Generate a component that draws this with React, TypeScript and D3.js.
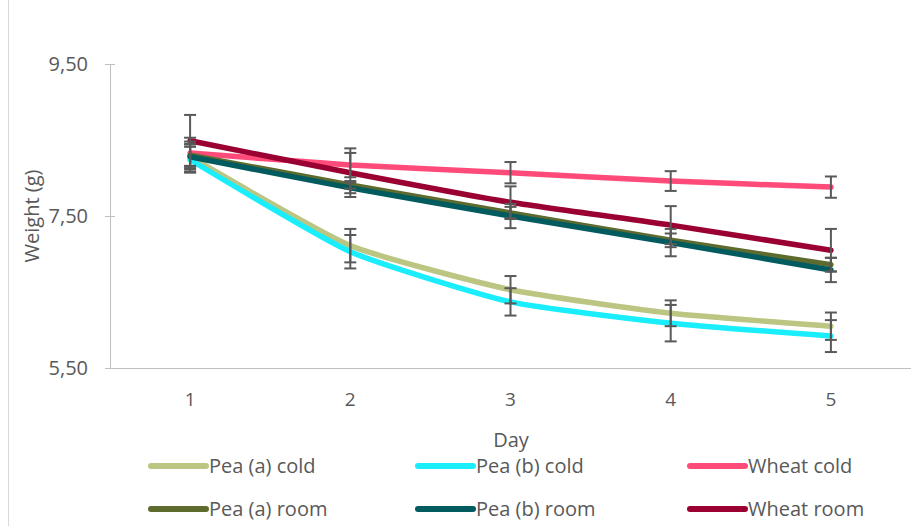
import React from 'react';
import * as d3 from 'd3';

const days = ['1', '2', '3', '4', '5'];
const yTicks = [5.5, 7.5, 9.5];

const peaAcold = [8.28, 7.11, 6.53, 6.22, 6.05];
const peaBcold = [8.24, 7.03, 6.37, 6.09, 5.92];
const wheatCold = [8.33, 8.17, 8.07, 7.96, 7.88];
const peaAroom = [8.30, 7.91, 7.54, 7.18, 6.86];
const peaBroom = [8.28, 7.87, 7.50, 7.15, 6.79];
const wheatRoom = [8.49, 8.07, 7.68, 7.38, 7.05];

const peaAcoldErr = [0.2, 0.22, 0.18, 0.17, 0.18];
const peaBcoldErr = [0.17, 0.22, 0.18, 0.24, 0.21];
const wheatColdErr = [0.2, 0.16, 0.14, 0.13, 0.14];
const peaAroomErr = [0.14, 0.05, 0.08, 0.09, 0.09];
const peaBroomErr = [0.17, 0.07, 0.16, 0.18, 0.16];
const wheatRoomErr = [0.34, 0.32, 0.21, 0.25, 0.28];

const series = [
  { name: 'Pea (a) cold', values: peaAcold, err: peaAcoldErr, color: '#bcc581' },
  { name: 'Pea (b) cold', values: peaBcold, err: peaBcoldErr, color: '#1aeefc' },
  { name: 'Wheat cold', values: wheatCold, err: wheatColdErr, color: '#ff4b79' },
  { name: 'Pea (a) room', values: peaAroom, err: peaAroomErr, color: '#5e6b2e' },
  { name: 'Pea (b) room', values: peaBroom, err: peaBroomErr, color: '#015b5f' },
  { name: 'Wheat room', values: wheatRoom, err: wheatRoomErr, color: '#9a0132' },
];

const W = 911, H = 526;
const left = 110, right = 911, top = 64, bottom = 368;
const font = 'Open Sans, sans-serif';
const textColor = '#595959';

export default function App() {
  const x = d3.scaleBand<string>().domain(days).range([left, right]);
  const y = d3.scaleLinear().domain([5.5, 9.5]).range([bottom, top]);
  const cx = (d: string) => (x(d) as number) + x.bandwidth() / 2;
  const line = d3.line<number>()
    .x((_, i) => cx(days[i]))
    .y(v => y(v))
    .curve(d3.curveCardinal.tension(0.5));

  return (
    <svg width={W} height={H} style={{ position: 'absolute', left: 0, top: 0 }}>
      <rect width={W} height={H} fill="#fff" />
      <line x1={8.5} x2={8.5} y1={0} y2={H} stroke="#d9d9d9" />
      {/* axes */}
      <line x1={left + 0.5} x2={left + 0.5} y1={top} y2={bottom} stroke="#bfbfbf" />
      <line x1={left} x2={right} y1={bottom + 0.5} y2={bottom + 0.5} stroke="#bfbfbf" />
      {yTicks.map(t => (
        <g key={t}>
          <line x1={left - 5} x2={left + 5} y1={y(t) + 0.5} y2={y(t) + 0.5} stroke="#bfbfbf" />
          <text x={88} y={y(t)} dy="0.35em" textAnchor="end" fontFamily={font} fontSize={20} fill={textColor}>
            {d3.format('.2f')(t).replace('.', ',')}
          </text>
        </g>
      ))}
      {days.map(d => (
        <text key={d} x={cx(d)} y={399} dy="0.35em" textAnchor="middle" fontFamily={font} fontSize={19} fill={textColor}>{d}</text>
      ))}
      <text x={511} y={440} dy="0.35em" textAnchor="middle" fontFamily={font} fontSize={20} fill={textColor}>Day</text>
      <text transform={`translate(32,${y(7.5)}) rotate(-90)`} dy="0.35em" textAnchor="middle" fontFamily={font} fontSize={20} fill={textColor}>Weight (g)</text>
      {/* lines */}
      {series.map(s => (
        <path key={s.name} d={line(s.values) || ''} fill="none" stroke={s.color} strokeWidth={5.5} strokeLinecap="round" strokeLinejoin="round" />
      ))}
      {/* error bars */}
      {series.map(s => (
        <g key={s.name + 'e'} stroke="#595959" strokeWidth={2}>
          {s.values.map((v, i) => {
            const px = cx(days[i]);
            const y1 = y(v + s.err[i]), y2 = y(v - s.err[i]);
            return (
              <g key={i}>
                <line x1={px} x2={px} y1={y1} y2={y2} />
                <line x1={px - 6} x2={px + 6} y1={y1} y2={y1} />
                <line x1={px - 6} x2={px + 6} y1={y2} y2={y2} />
              </g>
            );
          })}
        </g>
      ))}
      {/* legend */}
      {series.map((s, i) => {
        const col = i % 3, row = Math.floor(i / 3);
        const lx = [151, 418, 690][col];
        const ly = [466, 509][row];
        return (
          <g key={s.name + 'l'}>
            <line x1={lx} x2={lx + 55} y1={ly} y2={ly} stroke={s.color} strokeWidth={6} strokeLinecap="round" />
            <text x={lx + 58} y={ly} dy="0.35em" fontFamily={font} fontSize={20} fill={textColor}>{s.name}</text>
          </g>
        );
      })}
    </svg>
  );
}
